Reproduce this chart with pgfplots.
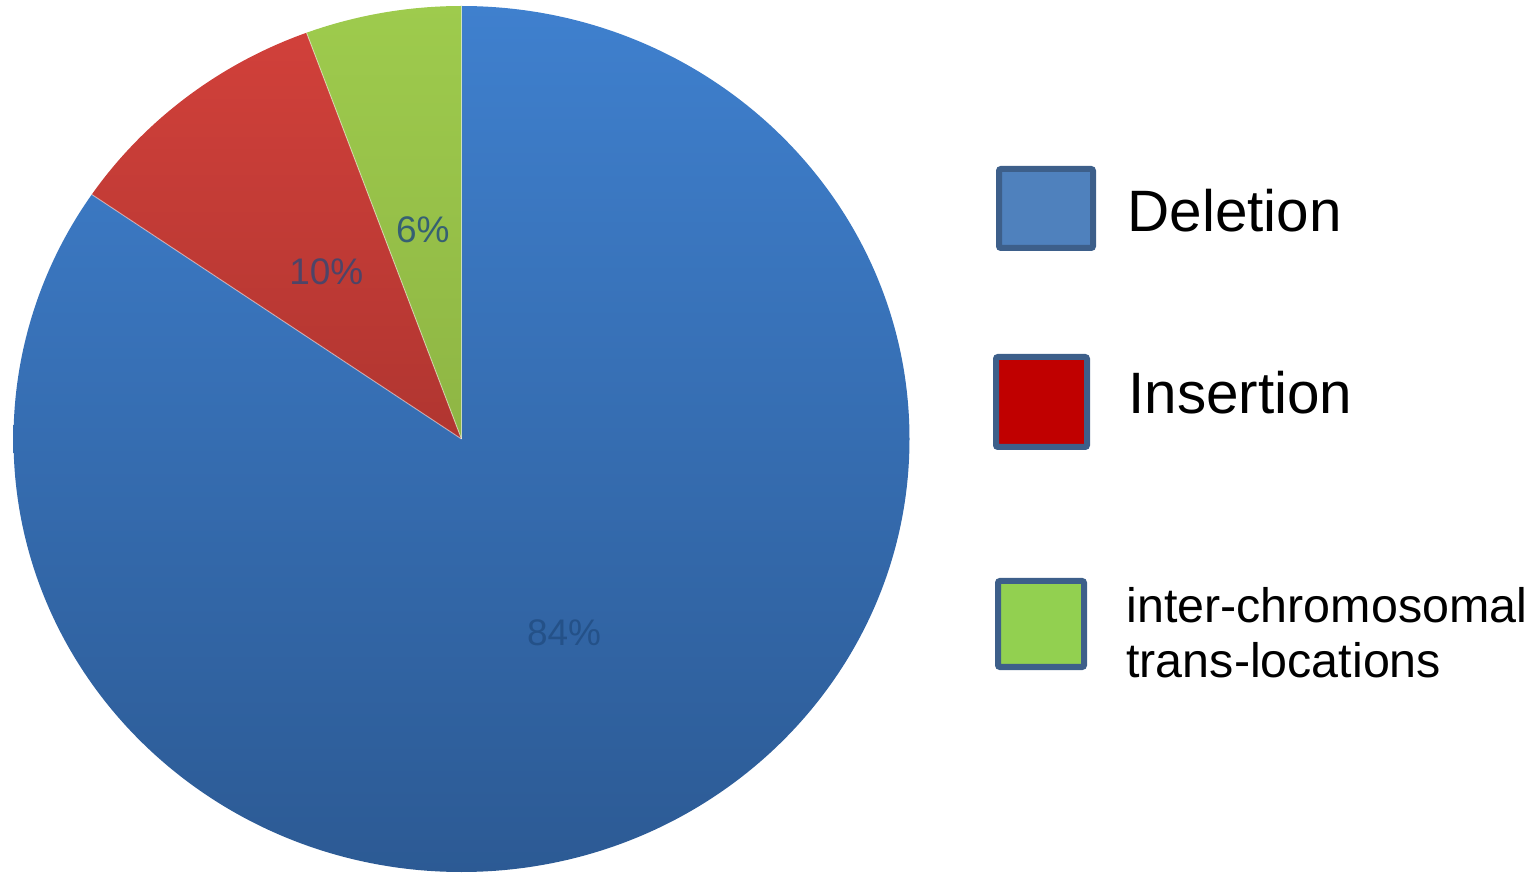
\documentclass[border=0pt]{standalone}
\usepackage{pgfplots}
\pgfplotsset{compat=1.18}
\usepackage{pgfplotstable}
\usepackage{fontspec}
\setmainfont{Liberation Sans}
\definecolor{blueT}{HTML}{3F80CE}
\definecolor{blueB}{HTML}{2C5A94}
\definecolor{redT}{HTML}{D3413B}
\definecolor{redB}{HTML}{8E2A26}
\definecolor{greenT}{HTML}{9ECB4D}
\definecolor{greenB}{HTML}{7FA03B}
\definecolor{legBlue}{HTML}{4F81BD}
\definecolor{legRed}{HTML}{C00000}
\definecolor{legGreen}{HTML}{92D050}
\definecolor{legBorder}{HTML}{3D5F8A}
\definecolor{labc}{HTML}{1F497D}

\pgfplotstableread{
name value
Deletion 84.3
Insertion 9.9
Translocation 5.8
}\piedata

\begin{document}
\begin{tikzpicture}
\pgfplotstablegetelem{0}{value}\of\piedata\pgfmathsetmacro{\vA}{\pgfplotsretval}
\pgfplotstablegetelem{1}{value}\of\piedata\pgfmathsetmacro{\vB}{\pgfplotsretval}
\pgfplotstablegetelem{2}{value}\of\piedata\pgfmathsetmacro{\vC}{\pgfplotsretval}
\pgfmathtruncatemacro{\lA}{round(\vA)}
\pgfmathtruncatemacro{\lB}{round(\vB)}
\pgfmathtruncatemacro{\lC}{round(\vC)}
% geometric boundary angles (clockwise from 12 o'clock)
\pgfmathsetmacro{\gA}{90}
\pgfmathsetmacro{\gB}{\gA-3.6*\vA}
\pgfmathsetmacro{\gC}{\gB-3.6*\vB}
\pgfmathsetmacro{\gD}{\gC-3.6*\vC}
% parametric angles on the ellipse
\pgfmathsetmacro{\tA}{90}
\pgfmathsetmacro{\tB}{atan2(224*sin(\gB),216.5*cos(\gB))}
\pgfmathsetmacro{\tC}{atan2(224*sin(\gC),216.5*cos(\gC))}
\pgfmathsetmacro{\tD}{90}
\pgfmathsetmacro{\tBb}{\tB-360}
\pgfmathsetmacro{\mA}{(\tA+\tBb)/2}
\pgfmathsetmacro{\mB}{(\tB+\tC)/2}
\pgfmathsetmacro{\mC}{(\tC+\tD)/2}
\begin{axis}[scale only axis, x=0.5pt, y=0.5pt,
  xmin=0, xmax=1538, ymin=0, ymax=874, hide axis, clip=false]
\path (axis cs:0,0) rectangle (axis cs:1538,874);
% Deletion slice
\begin{scope}
\clip (axis cs:461.5,435) -- ++(\tA:224pt and 216.5pt)
  arc[start angle=\tA, end angle=\tBb, x radius=224pt, y radius=216.5pt] -- cycle;
\shade[top color=blueT, bottom color=blueB] (axis cs:0,0) rectangle (axis cs:924,870);
\end{scope}
% Insertion slice
\begin{scope}
\clip (axis cs:461.5,435) -- ++(\tB:224pt and 216.5pt)
  arc[start angle=\tB, end angle=\tC, x radius=224pt, y radius=216.5pt] -- cycle;
\shade[top color=redT, bottom color=redB] (axis cs:0,0) rectangle (axis cs:924,870);
\end{scope}
% Translocation slice
\begin{scope}
\clip (axis cs:461.5,435) -- ++(\tC:224pt and 216.5pt)
  arc[start angle=\tC, end angle=\tD, x radius=224pt, y radius=216.5pt] -- cycle;
\shade[top color=greenT, bottom color=greenB] (axis cs:0,0) rectangle (axis cs:924,870);
\end{scope}
% faint boundaries
\draw[white, opacity=0.45, line width=0.5pt] (axis cs:461.5,435) -- ++(\tA:224pt and 216.5pt);
\draw[white, opacity=0.45, line width=0.5pt] (axis cs:461.5,435) -- ++(\tB:224pt and 216.5pt);
\draw[white, opacity=0.45, line width=0.5pt] (axis cs:461.5,435) -- ++(\tC:224pt and 216.5pt);
% labels
\path (axis cs:461.5,432) ++(\mA:110pt and 108pt) node[text=labc, text opacity=0.7, font=\fontsize{18.5}{20}\selectfont] {\lA\%};
\path (axis cs:461.5,432) ++(\mB:110pt and 108pt) node[text=labc, text opacity=0.7, font=\fontsize{18.5}{20}\selectfont] {\lB\%};
\path (axis cs:461.5,432) ++(\mC:110pt and 108pt) node[text=labc, text opacity=0.8, font=\fontsize{18.5}{20}\selectfont] {\lC\%};
% legend
\draw[legBorder, fill=legBlue, line width=3pt, rounded corners=1pt] (axis cs:999,626) rectangle (axis cs:1093,705);
\draw[legBorder, fill=legRed, line width=3pt, rounded corners=1pt] (axis cs:996,427) rectangle (axis cs:1087,517);
\draw[legBorder, fill=legGreen, line width=3pt, rounded corners=1pt] (axis cs:998,207) rectangle (axis cs:1084,293);
\node[anchor=base west, inner sep=0pt, font=\fontsize{29.2}{32}\selectfont] at (axis cs:1127,642) {Deletion};
\node[anchor=base west, inner sep=0pt, font=\fontsize{29.2}{32}\selectfont] at (axis cs:1128,460) {Insertion};
\node[anchor=base west, inner sep=0pt, font=\fontsize{24.2}{27}\selectfont] at (axis cs:1126,251) {inter-chromosomal};
\node[anchor=base west, inner sep=0pt, font=\fontsize{24.2}{27}\selectfont] at (axis cs:1126,197) {trans-locations};
\end{axis}
\end{tikzpicture}
\end{document}
